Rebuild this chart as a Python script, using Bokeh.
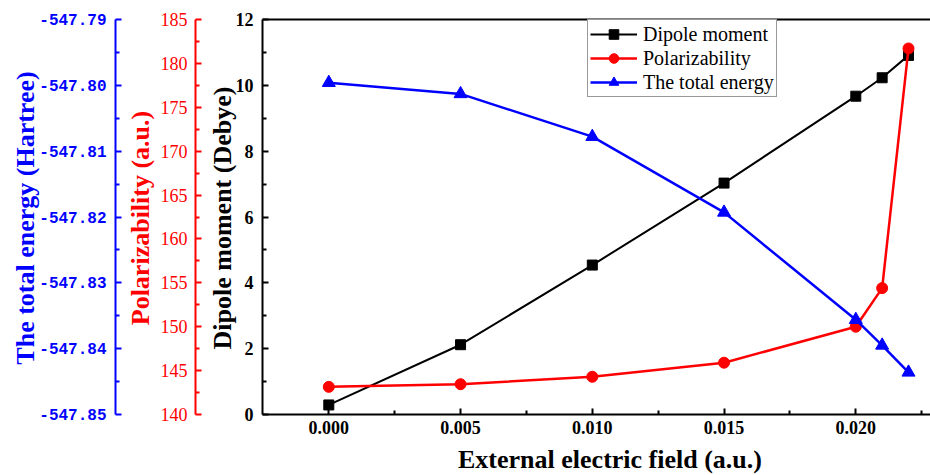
import math
from bokeh.plotting import figure
from bokeh.models import (Range1d, LinearAxis, FixedTicker, PrintfTickFormatter,
                          Legend, LegendItem, Label)
from bokeh.embed import file_html
from bokeh.resources import INLINE

# ---------------- data ----------------
field = [0.000, 0.005, 0.010, 0.015, 0.020, 0.021, 0.022]
dipole = [0.29, 2.12, 4.54, 7.03, 9.67, 10.23, 10.91]
polarizability = [143.15, 143.45, 144.3, 145.9, 150.0, 154.4, 181.7]
energy = [-547.7996, -547.8013, -547.8078, -547.8193, -547.8356, -547.8395, -547.8436]

x_ticks = [0.000, 0.005, 0.010, 0.015, 0.020]
x_minor = [0.0025, 0.0075, 0.0125, 0.0175, 0.0225]
dip_ticks = [0, 2, 4, 6, 8, 10, 12]
dip_minor = [1, 3, 5, 7, 9, 11]
pol_ticks = [140, 145, 150, 155, 160, 165, 170, 175, 180, 185]
pol_minor = [142.5, 147.5, 152.5, 157.5, 162.5, 167.5, 172.5, 177.5, 182.5]
en_ticks = [-547.85, -547.84, -547.83, -547.82, -547.81, -547.80, -547.79]
en_minor = [-547.845, -547.835, -547.825, -547.815, -547.805, -547.795]

labels = ["Dipole moment", "Polarizability", "The total energy"]
x_title = "External electric field (a.u.)"
dip_title = "Dipole moment (Debye)"
pol_title = "Polarizability (a.u.)"
en_title = "The total energy (Hartree)"

# ---------------- layout helpers ----------------
W, H = 930, 475
AX_TOP_PX, AX_BOT_PX = 19.0, 414.0     # pixel rows of the axis extremes
X0_PX = 328.3                          # pixel where field = 0
PX_PER = 26350.0                       # pixels per unit of field
x_start = -X0_PX / PX_PER
x_end = (W - X0_PX) / PX_PER


def px_to_x(px):
    return x_start + px / W * (x_end - x_start)


def full_range(lo, hi):
    """Range covering the whole canvas height so lo sits at AX_BOT_PX, hi at AX_TOP_PX."""
    per = (hi - lo) / (AX_BOT_PX - AX_TOP_PX)
    return Range1d(lo - (H - AX_BOT_PX) * per, hi + AX_TOP_PX * per)


BLUE = "#0000FF"
RED = "#FF0000"
BLACK = "#000000"
SERIF = "Liberation Serif"

p = figure(width=W, height=H, output_backend="svg", toolbar_location=None,
           x_axis_location=None, y_axis_location=None,
           x_range=Range1d(x_start, x_end), y_range=full_range(0, 12),
           min_border_left=0, min_border_right=0,
           min_border_top=0, min_border_bottom=0)
p.outline_line_color = None
p.background_fill_color = "white"
p.border_fill_color = "white"
p.grid.visible = False
p.extra_y_ranges = {"pol": full_range(140, 185), "en": full_range(-547.85, -547.79)}

x_main = px_to_x(262)
x_red = px_to_x(195)
x_blue = px_to_x(115)

# bottom x axis
xa = LinearAxis(fixed_location=0, bounds=(x_main, x_end),
                ticker=FixedTicker(ticks=x_ticks, minor_ticks=x_minor),
                formatter=PrintfTickFormatter(format="%.3f"))
# top border line
ta = LinearAxis(fixed_location=12, bounds=(x_main, x_end),
                ticker=FixedTicker(ticks=[], minor_ticks=[]))
ta.major_label_text_font_size = "0px"
# main y axis
ya = LinearAxis(fixed_location=x_main, bounds=(0, 12),
                ticker=FixedTicker(ticks=dip_ticks, minor_ticks=dip_minor))
# polarizability axis
ra = LinearAxis(fixed_location=x_red, y_range_name="pol", bounds=(140, 185),
                ticker=FixedTicker(ticks=pol_ticks, minor_ticks=pol_minor))
# energy axis
ba = LinearAxis(fixed_location=x_blue, y_range_name="en", bounds=(-547.85, -547.79),
                ticker=FixedTicker(ticks=en_ticks, minor_ticks=en_minor),
                formatter=PrintfTickFormatter(format="%.2f"))

for ax, col in [(xa, BLACK), (ta, BLACK), (ya, BLACK), (ra, RED), (ba, BLUE)]:
    ax.axis_line_color = col
    ax.axis_line_width = 2
    ax.major_tick_line_color = col
    ax.minor_tick_line_color = col
    ax.major_tick_line_width = 2
    ax.minor_tick_line_width = 2
    ax.major_tick_out = 0
    ax.minor_tick_out = 0
    ax.major_tick_in = 6
    ax.minor_tick_in = 4
    ax.major_label_text_color = col

ta.major_tick_in = 0
ta.minor_tick_in = 0

for ax in (xa, ya):
    ax.major_label_text_font = SERIF
    ax.major_label_text_font_style = "bold"
    ax.major_label_text_font_size = "18px"
xa.major_label_standoff = 6
ya.major_label_standoff = 9

ra.major_label_text_font = SERIF
ra.major_label_text_font_size = "18px"
ra.major_label_standoff = 8

ba.major_label_text_font = "Liberation Mono"
ba.major_label_text_font_style = "bold"
ba.major_label_text_font_size = "16px"
ba.major_label_standoff = 9

p.add_layout(xa, "below")
p.add_layout(ta, "above")
p.add_layout(ya, "left")
p.add_layout(ra, "left")
p.add_layout(ba, "left")

# ---------------- series ----------------
l1 = p.line(field, dipole, line_color=BLACK, line_width=2)
s1 = p.scatter(field, dipole, marker="square", size=10, fill_color=BLACK, line_color=BLACK)
l2 = p.line(field, polarizability, line_color=RED, line_width=2.5, y_range_name="pol")
s2 = p.scatter(field, polarizability, marker="circle", size=11, fill_color=RED,
               line_color=RED, y_range_name="pol")
l3 = p.line(field, energy, line_color=BLUE, line_width=2.5, y_range_name="en")
s3 = p.scatter(field, energy, marker="triangle", size=13, fill_color=BLUE,
               line_color=BLUE, y_range_name="en")

legend = Legend(items=[LegendItem(label=labels[0], renderers=[l1, s1]),
                       LegendItem(label=labels[1], renderers=[l2, s2]),
                       LegendItem(label=labels[2], renderers=[l3, s3])],
                location=(587, H - 97))
legend.label_text_font = SERIF
legend.label_text_font_size = "20px"
legend.label_text_color = BLACK
legend.label_height = 24
legend.glyph_height = 24
legend.glyph_width = 47
legend.label_standoff = 6
legend.spacing = 0
legend.padding = 2
legend.margin = 0
legend.border_line_color = "#333333"
legend.border_line_width = 1
legend.background_fill_alpha = 1
p.add_layout(legend, "center")

# ---------------- titles ----------------
mid_y = H - 217.5
for text, xpx, col in [(en_title, 25, BLUE), (pol_title, 140, RED), (dip_title, 222, BLACK)]:
    p.add_layout(Label(x=xpx, y=mid_y, x_units="screen", y_units="screen", text=text,
                       angle=math.pi / 2, text_align="center", text_baseline="alphabetic",
                       text_font=SERIF, text_font_style="bold", text_font_size="26px",
                       text_color=col))
p.add_layout(Label(x=609.5, y=H - 459, x_units="screen", y_units="screen",
                   text=x_title, text_align="center", text_baseline="alphabetic",
                   text_font=SERIF, text_font_style="bold", text_font_size="26px",
                   text_color=BLACK))

open("out.html", "w").write(file_html(p, INLINE))
